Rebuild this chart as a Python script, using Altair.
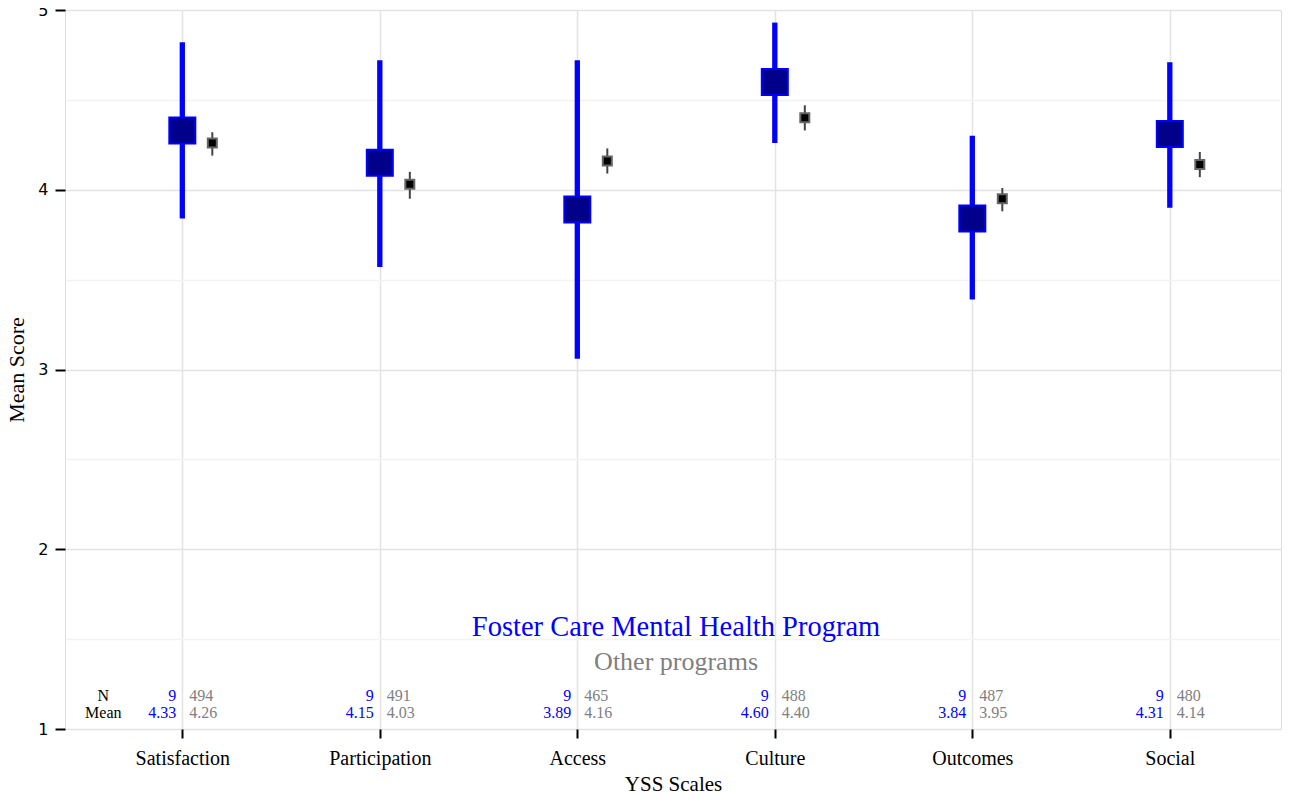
import altair as alt
import pandas as pd

# ---- data ----
scales = ["Satisfaction", "Participation", "Access", "Culture", "Outcomes", "Social"]
fc_mean = [4.33, 4.15, 3.89, 4.60, 3.84, 4.31]
fc_lo = [3.84, 3.57, 3.06, 4.26, 3.39, 3.90]
fc_hi = [4.82, 4.72, 4.72, 4.93, 4.30, 4.71]
fc_n = [9, 9, 9, 9, 9, 9]
oth_mean = [4.26, 4.03, 4.16, 4.40, 3.95, 4.14]
oth_lo = [4.19, 3.95, 4.09, 4.33, 3.88, 4.07]
oth_hi = [4.32, 4.10, 4.23, 4.47, 4.01, 4.21]
oth_n = [494, 491, 465, 488, 487, 480]

row_labels = ["N", "Mean"]
row_y = [1.183, 1.088]          # annotation rows (data units)
legend_labels = ["Foster Care Mental Health Program", "Other programs"]
legend_y = [1.567, 1.373]
legend_x = 3.5
row_label_x = 0.6

title = "Youth Services Survey - Scale Means and 95% Confidence Intervals"
FONT = "Liberation Serif"
BLUE = "#0000FF"
GREY = "#808080"

pos = list(range(1, len(scales) + 1))
df = pd.DataFrame({
    "scale": scales, "pos": pos,
    "fc_mean": fc_mean, "fc_lo": fc_lo, "fc_hi": fc_hi, "fc_n": fc_n,
    "oth_mean": oth_mean, "oth_lo": oth_lo, "oth_hi": oth_hi, "oth_n": oth_n,
    "n_y": row_y[0], "m_y": row_y[1],
})
rows_df = pd.DataFrame({"label": row_labels, "y": row_y, "x": row_label_x})
leg_df = pd.DataFrame({"label": legend_labels, "y": legend_y, "x": legend_x})

label_array = "[" + ",".join("'%s'" % s for s in scales) + "]"

xscale = alt.Scale(domain=[0.406, 6.563], nice=False, zero=False)
yscale = alt.Scale(domain=[1, 5], nice=False, zero=False)

xaxis = alt.Axis(
    values=pos, labelExpr=label_array + "[datum.value - 1]",
    title="YSS Scales", titleFont=FONT, titleFontSize=21, titleFontWeight="normal",
    titleColor="black", titlePadding=5,
    labelFont=FONT, labelFontSize=20, labelColor="black", labelPadding=10,
    tickColor="black", tickWidth=2, tickSize=9, domain=False,
    grid=True, gridColor="#e3e3e3", gridWidth=1.5,
)
yaxis = alt.Axis(
    values=[1, 1.5, 2, 2.5, 3, 3.5, 4, 4.5, 5],
    labelExpr="datum.value % 1 === 0 ? format(datum.value, 'd') : ''",
    title="Mean Score", titleFont=FONT, titleFontSize=22, titleFontWeight="normal",
    titleColor="black", titlePadding=9,
    labelFont="DejaVu Sans", labelFontSize=16, labelColor="black", labelPadding=7,
    tickColor={"condition": {"test": "datum.value % 1 !== 0", "value": "transparent"}, "value": "black"},
    tickWidth=2, tickSize=10, domain=False,
    grid=True,
    gridColor={"condition": {"test": "datum.value % 1 !== 0", "value": "#f3f3f3"}, "value": "#e3e3e3"},
    gridWidth=1.5,
)

base = alt.Chart(df)
x_enc = alt.X("pos:Q", scale=xscale, axis=xaxis)

fc_rule = base.mark_rule(color=BLUE, strokeWidth=5.3).encode(
    x=x_enc, y=alt.Y("fc_lo:Q", scale=yscale, axis=yaxis), y2="fc_hi:Q")
fc_pt = base.mark_square(size=676, fill="#00008B", stroke=BLUE, strokeWidth=2, opacity=1).encode(
    x="pos:Q", y="fc_mean:Q")
oth_rule = base.mark_rule(color="#444444", strokeWidth=2, xOffset=30).encode(
    x="pos:Q", y="oth_lo:Q", y2="oth_hi:Q")
oth_pt = base.mark_square(size=81, fill="black", stroke="#666666", strokeWidth=2, opacity=1,
                          xOffset=30).encode(x="pos:Q", y="oth_mean:Q")

txt = dict(font=FONT, fontSize=16, baseline="middle")
fc_n_t = base.mark_text(align="right", dx=-6, color=BLUE, **txt).encode(
    x="pos:Q", y="n_y:Q", text="fc_n:Q")
fc_m_t = base.mark_text(align="right", dx=-6, color=BLUE, **txt).encode(
    x="pos:Q", y="m_y:Q", text=alt.Text("fc_mean:Q", format=".2f"))
oth_n_t = base.mark_text(align="left", dx=7, color=GREY, **txt).encode(
    x="pos:Q", y="n_y:Q", text="oth_n:Q")
oth_m_t = base.mark_text(align="left", dx=7, color=GREY, **txt).encode(
    x="pos:Q", y="m_y:Q", text=alt.Text("oth_mean:Q", format=".2f"))
row_t = alt.Chart(rows_df).mark_text(align="center", color="black", **txt).encode(
    x="x:Q", y="y:Q", text="label:N")

leg_fc = alt.Chart(leg_df.iloc[[0]]).mark_text(font=FONT, fontSize=28.5, color=BLUE,
                                               baseline="middle").encode(
    x="x:Q", y="y:Q", text="label:N")
leg_ot = alt.Chart(leg_df.iloc[[1]]).mark_text(font=FONT, fontSize=26, color=GREY,
                                               baseline="middle").encode(
    x="x:Q", y="y:Q", text="label:N")

chart = alt.layer(
    fc_rule, fc_pt, oth_rule, oth_pt,
    fc_n_t, fc_m_t, oth_n_t, oth_m_t, row_t, leg_fc, leg_ot,
).properties(
    width=1216, height=719,
    title=alt.TitleParams(title, font=FONT, fontSize=24, fontWeight="normal",
                          color="black", anchor="middle", offset=3, baseline="alphabetic"),
    autosize=alt.AutoSizeParams(type="none"),
    padding={"left": 57, "top": 2, "right": 2, "bottom": 67},
).configure_view(
    stroke="#a0a0a0", strokeWidth=1.5, fill="white",
).configure(background="white")

chart.save("out.html", embed_options={"renderer": "svg", "actions": False})
